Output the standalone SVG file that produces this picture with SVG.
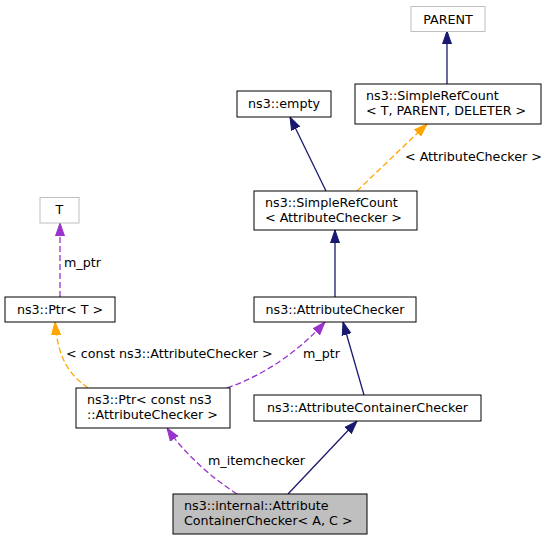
<svg xmlns="http://www.w3.org/2000/svg" width="551" height="541" viewBox="0 0 551 541">
<style>
text{font-family:"DejaVu Sans","Liberation Sans",sans-serif;font-size:12.7px;fill:#000}
.c{text-anchor:middle}
.n rect{fill:#fff;stroke:#000;stroke-width:1}
.g rect{stroke:#bfbfbf}
.e{fill:none;stroke-width:1.3}
.nv{stroke:#191970}
.or{stroke:#ffa500;stroke-dasharray:6,3}
.pu{stroke:#9a32cd;stroke-dasharray:6,3}
</style>
<defs>
<marker id="aN" markerUnits="userSpaceOnUse" markerWidth="14" markerHeight="12" refX="13" refY="6" orient="auto"><path d="M0,1.5 L13,6 L0,10.5 z" fill="#191970" stroke="#191970"/></marker>
<marker id="aO" markerUnits="userSpaceOnUse" markerWidth="14" markerHeight="12" refX="13" refY="6" orient="auto"><path d="M0,1.5 L13,6 L0,10.5 z" fill="#ffa500" stroke="#ffa500"/></marker>
<marker id="aP" markerUnits="userSpaceOnUse" markerWidth="14" markerHeight="12" refX="13" refY="6" orient="auto"><path d="M0,1.5 L13,6 L0,10.5 z" fill="#9a32cd" stroke="#9a32cd"/></marker>
</defs>
<g id="edges">
<path class="e nv" d="M447,84 L447,31" marker-end="url(#aN)"/>
<path class="e nv" d="M326,191 L290,117" marker-end="url(#aN)"/>
<path class="e or" d="M357,191 L427,124" marker-end="url(#aO)"/>
<path class="e nv" d="M335,297 L335,230" marker-end="url(#aN)"/>
<path class="e pu" d="M60,297 L60,223" marker-end="url(#aP)"/>
<path class="e or" d="M88,388 C70,375 58,360 55,322" marker-end="url(#aO)"/>
<path class="e pu" d="M227,388 C265,375 300,350 325,322" marker-end="url(#aP)"/>
<path class="e nv" d="M364,395 L343,322" marker-end="url(#aN)"/>
<path class="e nv" d="M288,494 L357,421" marker-end="url(#aN)"/>
<path class="e pu" d="M237,494 C215,480 185,455 167,428" marker-end="url(#aP)"/>
<text x="405" y="161">&lt; AttributeChecker &gt;</text>
<text x="64" y="267">m_ptr</text>
<text x="66" y="358">&lt; const ns3::AttributeChecker &gt;</text>
<text x="303" y="358">m_ptr</text>
<text x="208" y="465">m_itemchecker</text>
</g>
<g id="parent" class="n g"><rect x="411" y="6.5" width="74" height="25"/><text class="c" x="448" y="23.5">PARENT</text></g>
<g id="srcTPD" class="n"><rect x="355" y="84" width="186" height="40"/><text x="366" y="100">ns3::SimpleRefCount</text><text x="366" y="114.5">&lt; T, PARENT, DELETER &gt;</text></g>
<g id="empty" class="n"><rect x="237" y="91" width="94" height="26"/><text class="c" x="284" y="108">ns3::empty</text></g>
<g id="srcAC" class="n"><rect x="254" y="191" width="163" height="39"/><text x="265" y="207">ns3::SimpleRefCount</text><text x="265" y="221.5">&lt; AttributeChecker &gt;</text></g>
<g id="T" class="n g"><rect x="40" y="197.5" width="39" height="25.5"/><text class="c" x="59.5" y="214">T</text></g>
<g id="ptrT" class="n"><rect x="5" y="297" width="110" height="25"/><text class="c" x="60" y="314">ns3::Ptr&lt; T &gt;</text></g>
<g id="attrChecker" class="n"><rect x="254" y="297" width="162" height="25"/><text class="c" x="335" y="314">ns3::AttributeChecker</text></g>
<g id="ptrConst" class="n"><rect x="76" y="388" width="154" height="40"/><text x="87" y="404">ns3::Ptr&lt; const ns3</text><text x="87" y="418.5">::AttributeChecker &gt;</text></g>
<g id="attrContChecker" class="n"><rect x="254" y="395" width="227" height="26"/><text class="c" x="367.5" y="412">ns3::AttributeContainerChecker</text></g>
<g id="bottom" class="n"><rect x="173" y="494" width="194" height="40" style="fill:#bfbfbf"/><text x="184" y="510">ns3::internal::Attribute</text><text x="184" y="524.5">ContainerChecker&lt; A, C &gt;</text></g>
</svg>
